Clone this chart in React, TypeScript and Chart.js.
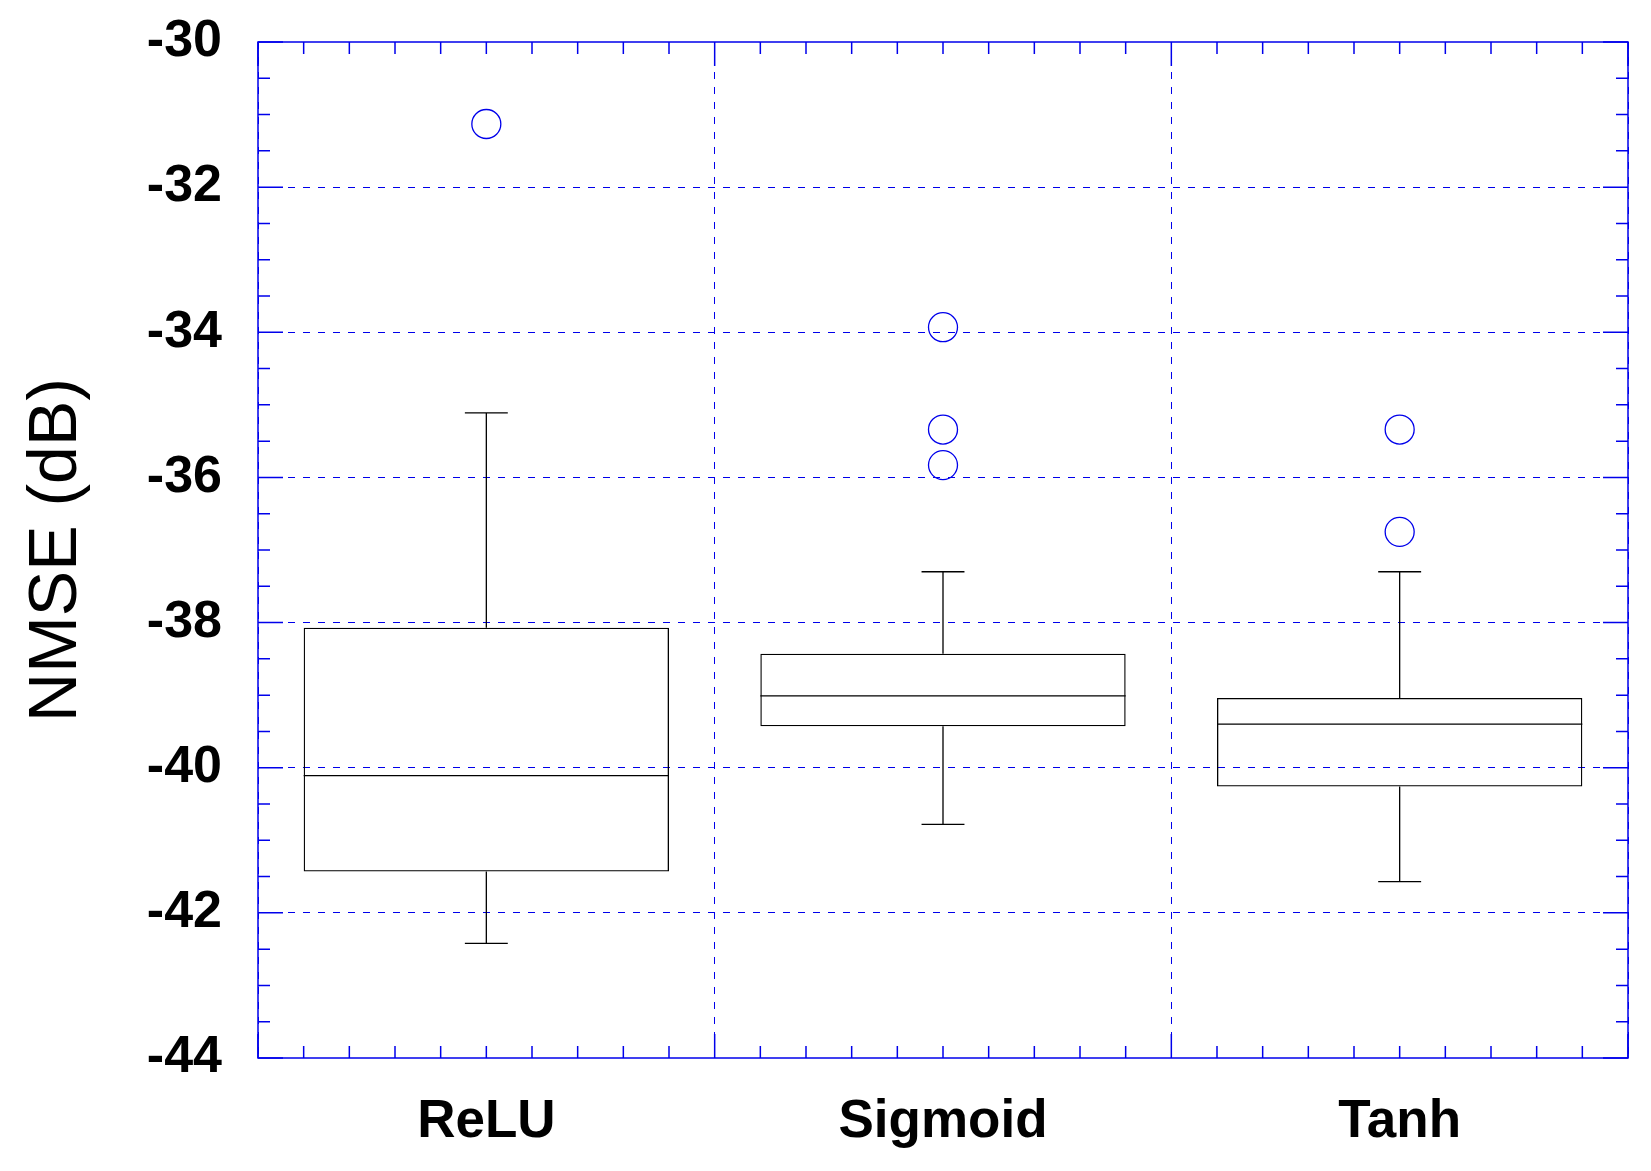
import React, { useEffect, useRef } from "react";
import { Chart, registerables } from "chart.js";

Chart.register(...registerables);

const categories = ["ReLU", "Sigmoid", "Tanh"];
const q1Values = [-41.43, -39.43, -40.26];
const q3Values = [-38.07, -38.43, -39.04];
const medianValues = [-40.11, -39.01, -39.4];
const whiskerLow = [-42.42, -40.78, -41.57];
const whiskerHigh = [-35.11, -37.3, -37.3];
const reluOutliers = [-31.13];
const sigmoidOutliers = [-33.93, -35.34, -35.83];
const tanhOutliers = [-35.34, -36.75];
const yTickMin = -44;
const yTickMax = -30;
const yTickStep = 2;

const BLUE = "rgb(0,0,235)";
const FONT = '"Liberation Sans", Arial, Helvetica, sans-serif';

const boxPlugin = {
  id: "boxWhiskers",
  afterDatasetsDraw(chart: any) {
    const x = chart.scales.x;
    const y = chart.scales.y;
    const ctx = chart.ctx;
    const cw = x.getPixelForValue(1) - x.getPixelForValue(0);
    ctx.save();
    ctx.strokeStyle = "#000";
    ctx.lineWidth = 1.3;
    for (let i = 0; i < categories.length; i++) {
      const cx = x.getPixelForValue(i);
      const half = cw * 0.4;
      const cap = cw * 0.047;
      const pm = y.getPixelForValue(medianValues[i]);
      const p1 = y.getPixelForValue(q1Values[i]);
      const p3 = y.getPixelForValue(q3Values[i]);
      const pl = y.getPixelForValue(whiskerLow[i]);
      const ph = y.getPixelForValue(whiskerHigh[i]);
      ctx.beginPath();
      ctx.moveTo(cx - half, pm);
      ctx.lineTo(cx + half, pm);
      ctx.moveTo(cx, p3);
      ctx.lineTo(cx, ph);
      ctx.moveTo(cx - cap, ph);
      ctx.lineTo(cx + cap, ph);
      ctx.moveTo(cx, p1);
      ctx.lineTo(cx, pl);
      ctx.moveTo(cx - cap, pl);
      ctx.lineTo(cx + cap, pl);
      ctx.stroke();
    }
    ctx.restore();
  },
};

const framePlugin = {
  id: "frameTicks",
  beforeDatasetsDraw(chart: any) {
    const x = chart.scales.x;
    const y = chart.scales.y;
    const ctx = chart.ctx;
    const { left, right, top, bottom } = chart.chartArea;
    ctx.save();
    ctx.strokeStyle = BLUE;
    ctx.lineWidth = 1.5;
    ctx.beginPath();
    for (let v = yTickMin; v <= yTickMax + 1e-9; v += 0.5) {
      const py = y.getPixelForValue(v);
      const major = Math.abs(v % 2) < 1e-9;
      const len = major ? 25 : 12;
      ctx.moveTo(left, py);
      ctx.lineTo(left + len, py);
      ctx.moveTo(right, py);
      ctx.lineTo(right - len, py);
    }
    const n = categories.length * 10;
    for (let k = 0; k <= n; k++) {
      const px = x.getPixelForValue(-0.5 + k / 10);
      const len = k % 10 === 0 ? 24 : 12;
      ctx.moveTo(px, bottom);
      ctx.lineTo(px, bottom - len);
      ctx.moveTo(px, top);
      ctx.lineTo(px, top + len);
    }
    ctx.stroke();
    ctx.strokeRect(left, top, right - left, bottom - top);
    ctx.restore();
  },
};

export default function App() {
  const ref = useRef<HTMLCanvasElement | null>(null);
  useEffect(() => {
    if (!ref.current) return;
    const outlierPoints: any[] = [];
    reluOutliers.forEach((v) => outlierPoints.push({ x: categories[0], y: v }));
    sigmoidOutliers.forEach((v) => outlierPoints.push({ x: categories[1], y: v }));
    tanhOutliers.forEach((v) => outlierPoints.push({ x: categories[2], y: v }));
    const chart = new Chart(ref.current, {
      type: "bar",
      data: {
        labels: categories,
        datasets: [
          {
            type: "bar",
            data: categories.map((_, i) => [q1Values[i], q3Values[i]]) as any,
            backgroundColor: "rgba(0,0,0,0)",
            borderColor: "#000",
            borderWidth: 1.3,
            borderSkipped: false,
            barPercentage: 0.8,
            categoryPercentage: 1.0,
          } as any,
          {
            type: "line",
            data: outlierPoints,
            showLine: false,
            pointStyle: "circle",
            pointRadius: 14.5,
            pointBorderWidth: 1.3,
            pointBorderColor: BLUE,
            pointBackgroundColor: "rgba(0,0,0,0)",
            borderColor: BLUE,
          } as any,
        ],
      },
      options: {
        responsive: false,
        animation: false,
        events: [],
        layout: { padding: { top: 42, right: 23, left: 0, bottom: 0 } },
        plugins: { legend: { display: false }, tooltip: { enabled: false } },
        scales: {
          x: {
            type: "category",
            offset: true,
            grid: {
              offset: true,
              color: BLUE,
              lineWidth: 1,
              drawTicks: false,
            },
            border: { display: false, dash: [7, 8] },
            ticks: {
              color: "#000",
              padding: 33,
              font: { family: FONT, size: 53, weight: "bold" },
            },
            afterFit: (s: any) => {
              s.height = 113;
              s.paddingLeft = 0;
              s.paddingRight = 0;
            },
          },
          y: {
            min: yTickMin,
            max: yTickMax,
            grid: {
              color: (c: any) =>
                c.tick && (c.tick.value === yTickMin || c.tick.value === yTickMax)
                  ? "rgba(0,0,0,0)"
                  : BLUE,
              lineWidth: 1,
              drawTicks: false,
            },
            border: { display: false, dash: [7, 8] },
            ticks: {
              stepSize: yTickStep,
              color: "#000",
              padding: 36,
              font: { family: FONT, size: 52, weight: "bold" },
            },
            title: {
              display: true,
              text: "NMSE (dB)",
              color: "#000",
              font: { family: FONT, size: 68, weight: "normal" },
              padding: { top: 16, bottom: 0 },
            },
            afterFit: (s: any) => {
              s.width = 258;
              s.paddingTop = 0;
              s.paddingBottom = 0;
            },
          },
        },
      },
      plugins: [framePlugin, boxPlugin],
    });
    return () => chart.destroy();
  }, []);
  return (
    <div style={{ position: "fixed", left: 0, top: 0, width: 1651, height: 1171, background: "#fff" }}>
      <canvas ref={ref} width={1651} height={1171} style={{ display: "block" }} />
    </div>
  );
}
